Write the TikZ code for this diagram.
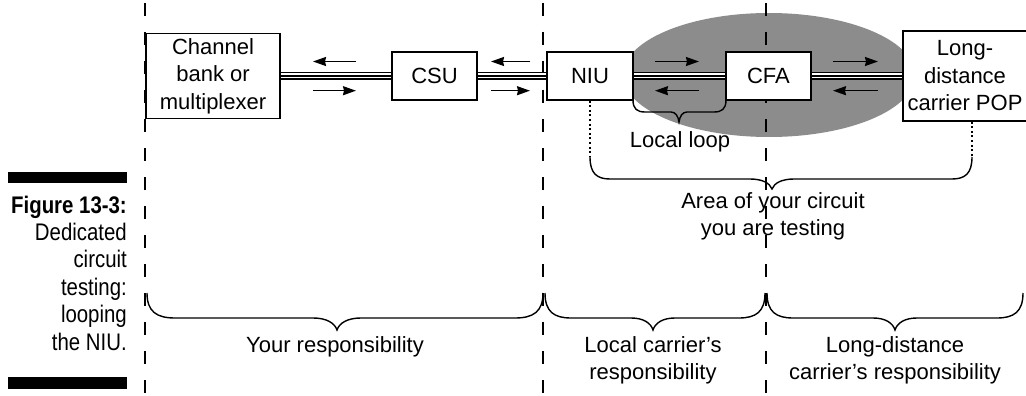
\documentclass[tikz,border=0pt]{standalone}
\usepackage{fontspec}
\setmainfont{Liberation Sans}
\newfontfamily\capfont{Liberation Sans}[FakeStretch=0.85]
\usetikzlibrary{arrows.meta}
\definecolor{ellgray}{RGB}{140,140,140}
% brace: x1, x2, xtip, ytop, yflat, ytip, curl radius, tip half-width
\newcommand\mybrace[8]{%
  \draw[brc] (#1,#4) .. controls (#1,{#4+0.75*(#5-#4)}) and ({#1+0.35*#7},#5) .. ({#1+#7},#5)
    -- ({#3-#8},#5) .. controls ({#3-0.45*#8},#5) and ({#3-0.1*#8},{#5+0.4*(#6-#5)}) .. (#3,#6)
    .. controls ({#3+0.1*#8},{#5+0.4*(#6-#5)}) and ({#3+0.45*#8},#5) .. ({#3+#8},#5)
    -- ({#2-#7},#5) .. controls ({#2-0.35*#7},#5) and (#2,{#4+0.75*(#5-#4)}) .. (#2,#4);}
\begin{document}
\begin{tikzpicture}[x=1pt,y=-1pt,
  font=\fontsize{22}{27.5}\selectfont,
  blk/.style={draw, line width=1.3pt, fill=white, inner sep=0pt, align=center},
  divider/.style={line width=1.3pt, dash pattern=on 13pt off 16pt},
  trip/.style={line width=8pt, postaction={draw,white,line width=5pt}, postaction={draw,black,line width=2pt}},
  arr/.style={line width=1.6pt, -{Stealth[length=13pt,width=9pt,inset=1pt]}},
  dotline/.style={line width=2pt, dash pattern=on 2pt off 2.6pt},
  brc/.style={line width=1.4pt},
  lbl/.style={inner sep=0pt, align=center}]
\useasboundingbox[fill=white] (0,0) rectangle (1026,396);
% shaded test area
\fill[ellgray] (769,75) ellipse [x radius=146pt, y radius=62pt];
% responsibility dividers
\draw[divider] (145,3) -- (145,396);
\draw[divider] (543,3) -- (543,396);
\draw[divider] (766,3) -- (766,396);
% boxes
\node[blk, minimum width=134pt, minimum height=85pt] (chan) at (213,76) {Channel\\bank or\\multiplexer};
\node[blk, minimum width=85pt, minimum height=48pt] (csu) at (434.5,76) {CSU};
\node[blk, minimum width=86pt, minimum height=48pt] (niu) at (590,76) {NIU};
\node[blk, minimum width=85pt, minimum height=48pt] (cfa) at (768.5,76) {CFA};
\node[blk, minimum width=124pt, minimum height=90pt] (ld) at (965,76) {Long-\\distance\\carrier POP};
% circuit lines
\draw[trip] (chan.east) -- (csu.west);
\draw[trip] (csu.east) -- (niu.west);
\draw[trip] (niu.east) -- (cfa.west);
\draw[trip] (cfa.east) -- (ld.west);
% box borders over the line ends
\draw[line width=1.3pt] (chan.north east) -- (chan.south east);
\draw[line width=1.3pt] (csu.north west) -- (csu.south west) (csu.north east) -- (csu.south east);
\draw[line width=1.3pt] (niu.north west) -- (niu.south west) (niu.north east) -- (niu.south east);
\draw[line width=1.3pt] (cfa.north west) -- (cfa.south west) (cfa.north east) -- (cfa.south east);
\draw[line width=1.3pt] (ld.north west) -- (ld.south west);
% direction arrows
\draw[arr] (356,61.5) -- (313,61.5);
\draw[arr] (313,90.7) -- (356,90.7);
\draw[arr] (530,61.5) -- (491,61.5);
\draw[arr] (491,90.7) -- (530,90.7);
\draw[arr] (655,61.5) -- (699,61.5);
\draw[arr] (699,90.7) -- (655,90.7);
\draw[arr] (833,61.5) -- (878,61.5);
\draw[arr] (878,90.7) -- (833,90.7);
% local loop brace
\mybrace{633}{726}{679}{100}{112}{122}{12}{8}
\node[lbl] (loc) at (680,142) {Local loop};
% testing area
\coordinate (dl) at (590,157);
\coordinate (dr) at (972,157);
\draw[dotline] (niu.south) -- (dl);
\draw[dotline] (dr |- ld.south) -- (dr);
\mybrace{590}{972}{772}{157}{179}{189}{20}{22}
\node[lbl] (area) at (773,216.5) {Area of your circuit\\you are testing};
% responsibility braces
\mybrace{147}{543}{337}{293}{318}{330}{28}{24}
\mybrace{545}{765}{653}{293}{318}{330}{26}{22}
\mybrace{767}{1023}{895}{293}{318}{330}{26}{22}
\node[lbl] (yours) at (335,347) {Your responsibility};
\node[lbl] (lcr) at (653,360.5) {Local carrier’s\\responsibility};
\node[lbl] (ldr) at (895,360.5) {Long-distance\\carrier’s responsibility};
% caption
\fill (8,172) rectangle (127,183);
\fill (8,377) rectangle (127,389);
\node[lbl, anchor=north east, align=right, font=\capfont\fontsize{24}{27.4}\selectfont] (cap) at (127,195.5)
  {\textbf{Figure 13-3:}\\Dedicated\\circuit\\testing:\\looping\\the NIU.};
\end{tikzpicture}
\end{document}
